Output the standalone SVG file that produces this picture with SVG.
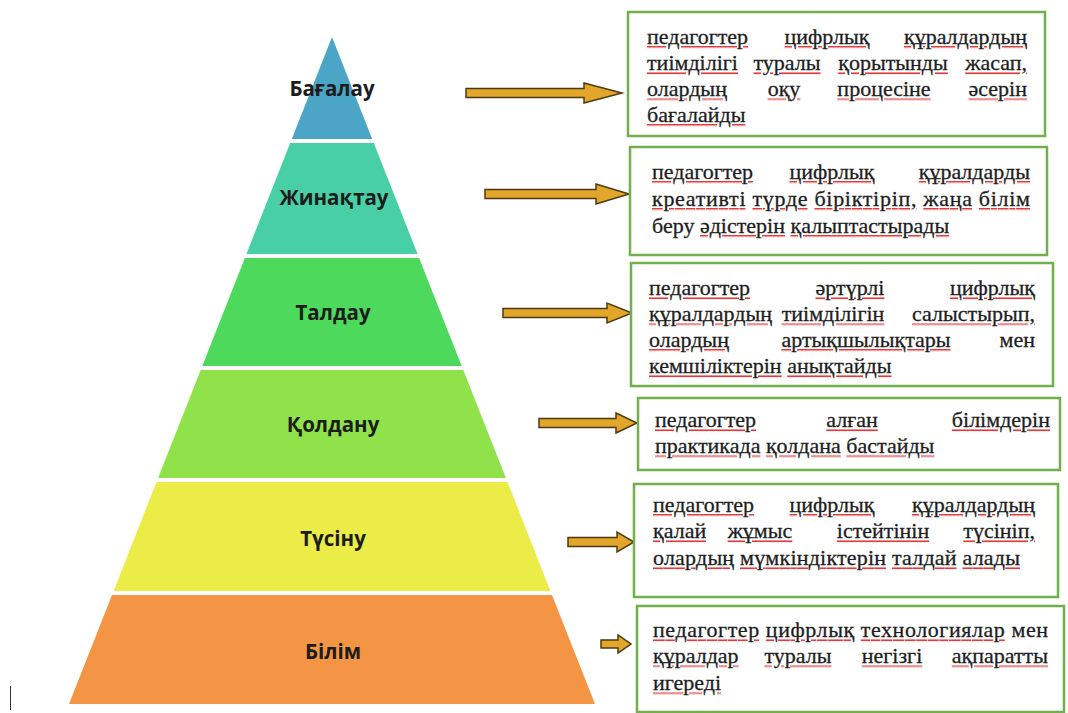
<svg xmlns="http://www.w3.org/2000/svg" width="1068" height="713" viewBox="0 0 1068 713">
<defs>
<pattern id="wave" patternUnits="userSpaceOnUse" width="4" height="3">
<path d="M0,2.4 L1,0.6 L2,2.4 L3,0.6 L4,2.4" fill="none" stroke="#e03838" stroke-width="1.1"/>
</pattern>
</defs>
<style>
.lbl{font-family:"Open Sans","Noto Sans","Liberation Sans",sans-serif;font-weight:700;font-size:20.5px;fill:#1c1c1c;text-anchor:middle;dominant-baseline:central}
.t{font-family:"Liberation Serif","DejaVu Serif",serif;font-size:22px;fill:#1e1e1e}
.sp{fill:url(#wave);text-decoration:underline;text-decoration-thickness:3px;text-underline-offset:2px}
.k{fill:#1e1e1e;stroke:#1e1e1e;stroke-width:0.3}
.m{text-anchor:middle}
.e{text-anchor:end}
.box{fill:#ffffff;stroke:#72b04e;stroke-width:2.5}
.arr{fill:#e2a62b;stroke:#4d3a12;stroke-width:1.5;stroke-linejoin:miter}
</style>
<rect width="1068" height="713" fill="#ffffff"/>
<g id="pyramid">
<g id="layer-bagalau"><polygon points="332,37 372.2,139 291.8,139" fill="#4ba5c7"/><text class="lbl" x="332" y="88">Бағалау</text></g>
<g id="layer-zhinaktau"><polygon points="290.2,143 373.8,143 417.6,254 246.4,254" fill="#49cfa6"/><text class="lbl" x="334" y="197">Жинақтау</text></g>
<g id="layer-taldau"><polygon points="244.9,258 419.1,258 461.7,366 202.3,366" fill="#4cd95c"/><text class="lbl" x="333" y="312">Талдау</text></g>
<g id="layer-koldanu"><polygon points="200.7,370 463.3,370 505.9,478 158.1,478" fill="#8fe24a"/><text class="lbl" x="333" y="424">Қолдану</text></g>
<g id="layer-tusinu"><polygon points="156.5,482 507.5,482 550.4,591 113.6,591" fill="#ecec48"/><text class="lbl" x="333" y="538">Түсіну</text></g>
<g id="layer-bilim"><polygon points="112,595 552,595 595,704 69,704" fill="#f49545"/><text class="lbl" x="333" y="651">Білім</text></g>
</g>
<g id="connectors">
<polygon class="arr" points="466,88.5 584,88.5 584,83 622,93 584,103 584,97.5 466,97.5"/>
<polygon class="arr" points="485,189.5 596,189.5 596,184 629,194 596,204 596,198.5 485,198.5"/>
<polygon class="arr" points="503,308.5 607,308.5 607,303 632,313 607,323 607,317.5 503,317.5"/>
<polygon class="arr" points="539,418.5 616,418.5 616,413 637,423 616,433 616,427.5 539,427.5"/>
<polygon class="arr" points="568,537.5 617,537.5 617,532 634,542 617,552 617,546.5 568,546.5"/>
<polygon class="arr" points="601,640 618,640 618,635 631,644 618,653 618,648 601,648"/>
</g>
<g id="box-bagalau">
<rect class="box" x="628" y="12" width="417" height="124"/>
<text class="t sp" x="647" y="44"><tspan class="k">педагогтер</tspan></text><text class="t sp m" x="827" y="44"><tspan class="k">цифрлық</tspan></text><text class="t sp e" x="1027" y="44"><tspan class="k">құралдардың</tspan></text>
<text class="t sp" x="647" y="70"><tspan class="k">тиімділігі</tspan></text><text class="t sp m" x="787" y="70"><tspan class="k">туралы</tspan></text><text class="t sp m" x="893" y="70"><tspan class="k">қорытынды</tspan></text><text class="t sp e" x="1027" y="70"><tspan class="k">жасап,</tspan></text>
<text class="t sp" x="647" y="96"><tspan class="k">олардың</tspan></text><text class="t sp m" x="784" y="96"><tspan class="k">оқу</tspan></text><text class="t sp m" x="884" y="96"><tspan class="k">процесіне</tspan></text><text class="t sp e" x="1027" y="96"><tspan class="k">әсерін</tspan></text>
<text class="t sp" x="647" y="122"><tspan class="k">бағалайды</tspan></text>
</g>
<g id="box-zhinaktau">
<rect class="box" x="630" y="147" width="417" height="108"/>
<text class="t sp" x="652" y="179"><tspan class="k">педагогтер</tspan></text><text class="t sp m" x="832" y="179"><tspan class="k">цифрлық</tspan></text><text class="t sp e" x="1030" y="179"><tspan class="k">құралдарды</tspan></text>
<text class="t" x="652" y="206" textLength="378" lengthAdjust="spacing"><tspan class="sp"><tspan class="k">креативті</tspan></tspan> <tspan class="sp"><tspan class="k">түрде</tspan></tspan> <tspan class="sp"><tspan class="k">біріктіріп,</tspan></tspan> <tspan class="sp"><tspan class="k">жаңа</tspan></tspan> <tspan class="sp"><tspan class="k">білім</tspan></tspan></text>
<text class="t" x="652" y="233"><tspan class="k">беру</tspan> <tspan class="sp"><tspan class="k">әдістерін</tspan></tspan> <tspan class="sp"><tspan class="k">қалыптастырады</tspan></tspan></text>
</g>
<g id="box-taldau">
<rect class="box" x="631" y="263" width="422" height="123"/>
<text class="t sp" x="649" y="295"><tspan class="k">педагогтер</tspan></text><text class="t sp m" x="850" y="295"><tspan class="k">әртүрлі</tspan></text><text class="t sp e" x="1035" y="295"><tspan class="k">цифрлық</tspan></text>
<text class="t sp" x="649" y="321"><tspan class="k">құралдардың</tspan></text><text class="t sp m" x="833" y="321"><tspan class="k">тиімділігін</tspan></text><text class="t sp e" x="1035" y="321"><tspan class="k">салыстырып,</tspan></text>
<text class="t sp" x="649" y="347"><tspan class="k">олардың</tspan></text><text class="t sp m" x="866" y="347"><tspan class="k">артықшылықтары</tspan></text><text class="t e" x="1035" y="347"><tspan class="k">мен</tspan></text>
<text class="t" x="649" y="373"><tspan class="sp"><tspan class="k">кемшіліктерін</tspan></tspan> <tspan class="sp"><tspan class="k">анықтайды</tspan></tspan></text>
</g>
<g id="box-koldanu">
<rect class="box" x="638" y="398" width="422" height="72"/>
<text class="t sp" x="655" y="427"><tspan class="k">педагогтер</tspan></text><text class="t sp m" x="852" y="427"><tspan class="k">алған</tspan></text><text class="t sp e" x="1050" y="427"><tspan class="k">білімдерін</tspan></text>
<text class="t" x="655" y="453"><tspan class="sp"><tspan class="k">практикада</tspan></tspan> <tspan class="sp"><tspan class="k">қолдана</tspan></tspan> <tspan class="sp"><tspan class="k">бастайды</tspan></tspan></text>
</g>
<g id="box-tusinu">
<rect class="box" x="634" y="484" width="424" height="113"/>
<text class="t sp" x="653" y="512"><tspan class="k">педагогтер</tspan></text><text class="t sp m" x="832" y="512"><tspan class="k">цифрлық</tspan></text><text class="t sp e" x="1035" y="512"><tspan class="k">құралдардың</tspan></text>
<text class="t sp" x="653" y="538"><tspan class="k">қалай</tspan></text><text class="t sp m" x="760" y="538"><tspan class="k">жұмыс</tspan></text><text class="t sp m" x="883" y="538"><tspan class="k">істейтінін</tspan></text><text class="t sp e" x="1035" y="538"><tspan class="k">түсініп,</tspan></text>
<text class="t" x="653" y="565" textLength="367" lengthAdjust="spacing"><tspan class="sp"><tspan class="k">олардың</tspan></tspan> <tspan class="sp"><tspan class="k">мүмкіндіктерін</tspan></tspan> <tspan class="sp"><tspan class="k">талдай</tspan></tspan> <tspan class="sp"><tspan class="k">алады</tspan></tspan></text>
</g>
<g id="box-bilim">
<rect class="box" x="637" y="606" width="427" height="106"/>
<text class="t" x="653" y="637" textLength="395" lengthAdjust="spacing"><tspan class="sp"><tspan class="k">педагогтер</tspan></tspan> <tspan class="sp"><tspan class="k">цифрлық</tspan></tspan> <tspan class="sp"><tspan class="k">технологиялар</tspan></tspan> <tspan class="k">мен</tspan></text>
<text class="t sp" x="653" y="663"><tspan class="k">құралдар</tspan></text><text class="t sp m" x="798" y="663"><tspan class="k">туралы</tspan></text><text class="t sp m" x="892" y="663"><tspan class="k">негізгі</tspan></text><text class="t sp e" x="1048" y="663"><tspan class="k">ақпаратты</tspan></text>
<text class="t sp" x="653" y="690"><tspan class="k">игереді</tspan></text>
</g>
<line x1="10.5" y1="686" x2="10.5" y2="710" stroke="#333333" stroke-width="1"/>
</svg>
